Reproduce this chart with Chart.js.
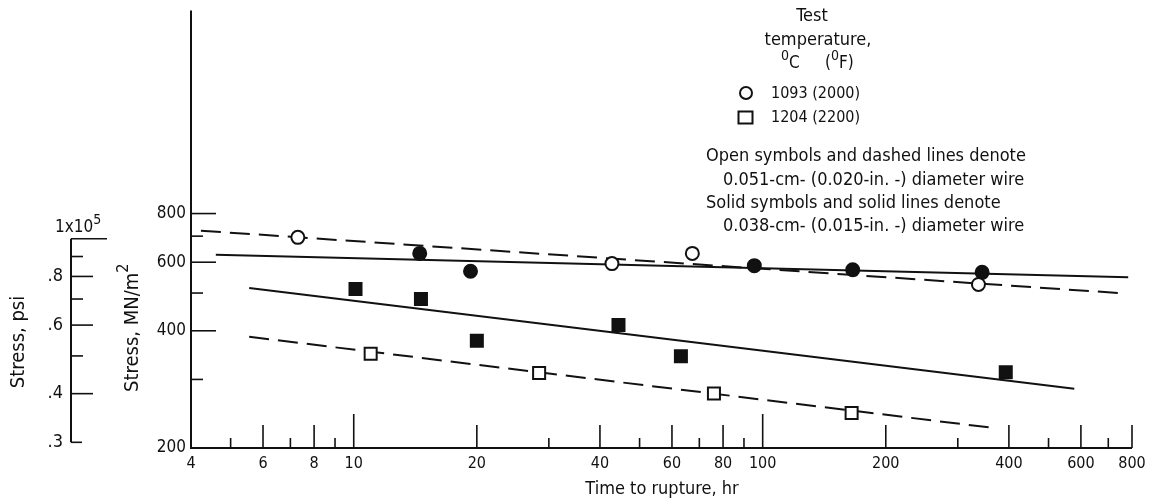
<!DOCTYPE html>
<html>
<head>
<meta charset="utf-8">
<script src="https://cdn.jsdelivr.net/npm/chart.js@4/dist/chart.umd.min.js"></script>
<style>
  html,body{margin:0;padding:0;background:#fff;}
  canvas{display:block;}
</style>
</head>
<body>
<canvas id="rupture" width="1153" height="501"></canvas>
<script>
/* ---------- data: time to rupture (hr) vs stress (MN/m2) ---------- */
// 1093 C, open = 0.051-cm wire, solid = 0.038-cm wire
const open1093Hr    = [7.3, 42.8, 67.3, 337];
const open1093Mpa   = [695, 595, 632, 526];
const solid1093Hr   = [14.5, 19.3, 95.4, 166, 344];
const solid1093Mpa  = [632, 569, 588, 574, 565];
// 1204 C
const open1204Hr    = [11.0, 28.4, 76.0, 165];
const open1204Mpa   = [349, 311.5, 276, 246];
const solid1204Hr   = [10.1, 14.6, 20.0, 44.4, 63.1, 393];
const solid1204Mpa  = [512, 483, 377, 414, 344, 313];

// faired lines (end points)
const fitOpen1093Hr   = [4.23, 765];
const fitOpen1093Mpa  = [723, 499];
const fitSolid1093Hr  = [4.6, 783];
const fitSolid1093Mpa = [627, 549];
const fitSolid1204Hr  = [5.55, 578];
const fitSolid1204Mpa = [515, 284];
const fitOpen1204Hr   = [5.55, 369];
const fitOpen1204Mpa  = [386, 225];

/* ---------- axes ---------- */
const xTicks      = [4,5,6,7,8,9,10,20,30,40,50,60,70,80,90,100,200,300,400,500,600,700,800];
const xLabels     = [4,6,8,10,20,40,60,80,100,200,400,600,800];
const yTicks      = [200,300,400,500,600,700,800];
const yLabels     = [200,400,600,800];
const psiTicks    = [30000,40000,50000,60000,70000,80000,90000,100000];
const psiLabels   = {30000:'.3',40000:'.4',60000:'.6',80000:'.8'};
const PSI_TO_MPA  = 0.0068948;

const FONT = "'DejaVu Sans Condensed','DejaVu Sans',sans-serif";
const INK  = '#111';

const pts = (xs,ys) => xs.map((x,i)=>({x, y: ys[i]}));

const marker = (xs,ys,style,filled,size) => ({
  type:'scatter', data: pts(xs,ys), order: 0,
  pointStyle: style, pointRadius: size, pointBorderWidth: 2,
  pointBorderColor: INK, pointBackgroundColor: filled ? INK : '#fff'
});
const fit = (xs,ys,dashed) => ({
  type:'line', data: pts(xs,ys), order: 1,
  borderColor: INK, borderWidth: 2, borderDash: dashed ? [20,9] : [],
  pointRadius: 0, fill:false, tension:0
});

// text followed by a raised small piece, e.g. m^2 or 0C
function textSup(ctx, parts, x, y, size){
  let cx = x;
  parts.forEach(([t, sup])=>{
    ctx.font = `${sup ? Math.round(size*0.8) : size}px ${FONT}`;
    ctx.fillText(t, cx, sup ? y - size*0.45 : y);
    cx += ctx.measureText(t).width;
  });
  return cx - x;
}

/* ---------- hand-drawn axes, ticks point inward ---------- */
const axesPlugin = {
  id:'paperAxes',
  afterDraw(chart){
    const {ctx, chartArea:a, scales:{x, y}} = chart;
    ctx.save();
    ctx.strokeStyle = INK; ctx.fillStyle = INK; ctx.lineWidth = 2;

    // main frame: left and bottom
    ctx.beginPath();
    ctx.moveTo(a.left, a.top); ctx.lineTo(a.left, a.bottom); ctx.lineTo(a.right, a.bottom);
    ctx.stroke();

    // x ticks
    ctx.lineWidth = 1.6;
    xTicks.forEach(v=>{
      if (v===4) return;
      const px = x.getPixelForValue(v);
      const len = (v===10||v===100) ? 34 : xLabels.includes(v) ? 23 : 10;
      ctx.beginPath(); ctx.moveTo(px, a.bottom); ctx.lineTo(px, a.bottom-len); ctx.stroke();
    });
    ctx.font = `16px ${FONT}`; ctx.textAlign='center'; ctx.textBaseline='middle';
    xLabels.forEach(v=> ctx.fillText(String(v), x.getPixelForValue(v), a.bottom+16));
    ctx.font = `18px ${FONT}`;
    ctx.fillText('Time to rupture, hr', 662, 489);

    // y ticks
    yTicks.forEach(v=>{
      if (v===200) return;
      const py = y.getPixelForValue(v);
      const len = yLabels.includes(v) ? 25 : 12;
      ctx.beginPath(); ctx.moveTo(a.left, py); ctx.lineTo(a.left+len, py); ctx.stroke();
    });
    ctx.font = `17px ${FONT}`; ctx.textAlign='right';
    yLabels.forEach(v=> ctx.fillText(String(v), a.left-5, y.getPixelForValue(v)));

    // y title with superscript
    ctx.save();
    ctx.translate(133, 392); ctx.rotate(-Math.PI/2);
    ctx.textAlign='left';
    textSup(ctx, [['Stress, MN/m', false], ['2', true]], 0, 0, 20);
    ctx.restore();

    // secondary psi axis, same log scale
    const px0 = 71;
    const pTop = y.getPixelForValue(100000*PSI_TO_MPA);
    const pBot = y.getPixelForValue(30000*PSI_TO_MPA);
    ctx.lineWidth = 2;
    ctx.beginPath(); ctx.moveTo(px0, pTop); ctx.lineTo(px0, pBot); ctx.stroke();
    ctx.lineWidth = 1.6;
    psiTicks.forEach(v=>{
      const py = y.getPixelForValue(v*PSI_TO_MPA);
      const len = v===100000 ? 36 : v===30000 ? 11 : psiLabels[v] ? 22 : 12;
      ctx.beginPath(); ctx.moveTo(px0, py); ctx.lineTo(px0+len, py); ctx.stroke();
    });
    ctx.font = `18px ${FONT}`; ctx.textAlign='right';
    Object.keys(psiLabels).forEach(k=>{
      ctx.fillText(psiLabels[k], 63, y.getPixelForValue(k*PSI_TO_MPA));
    });
    ctx.textAlign='left';
    textSup(ctx, [['1x10', false], ['5', true]], 55, pTop-11, 17);

    ctx.save();
    ctx.translate(19, 342); ctx.rotate(-Math.PI/2);
    ctx.textAlign='center'; ctx.font = `20px ${FONT}`;
    ctx.fillText('Stress, psi', 0, 0);
    ctx.restore();

    // key
    ctx.font = `18px ${FONT}`; ctx.textAlign='center';
    ctx.fillText('Test', 812, 16);
    ctx.fillText('temperature,', 818, 40);
    ctx.textAlign='left';
    textSup(ctx, [['0', true], ['C', false]], 781, 64, 17);
    textSup(ctx, [['(', false], ['0', true], ['F)', false]], 825, 64, 17);

    ctx.lineWidth = 2;
    ctx.beginPath(); ctx.arc(746, 93, 6, 0, Math.PI*2); ctx.stroke();
    ctx.strokeRect(738.5, 111.5, 14, 12);
    ctx.font = `16px ${FONT}`;
    ctx.fillText('1093 (2000)', 771, 94);
    ctx.fillText('1204 (2200)', 771, 118);
    ctx.font = `18px ${FONT}`;
    ctx.fillText('Open symbols and dashed lines denote', 706, 156);
    ctx.fillText('0.051-cm- (0.020-in. -) diameter wire', 723, 180);
    ctx.fillText('Solid symbols and solid lines denote', 706, 203);
    ctx.fillText('0.038-cm- (0.015-in. -) diameter wire', 723, 226);
    ctx.restore();
  }
};

new Chart(document.getElementById('rupture'), {
  data:{
    datasets:[
      marker(open1093Hr,  open1093Mpa,  'circle', false, 6.5),
      marker(solid1093Hr, solid1093Mpa, 'circle', true,  6.5),
      marker(open1204Hr,  open1204Mpa,  'rect',   false, 8.5),
      marker(solid1204Hr, solid1204Mpa, 'rect',   true,  8.5),
      fit(fitOpen1093Hr,  fitOpen1093Mpa,  true),
      fit(fitSolid1093Hr, fitSolid1093Mpa, false),
      fit(fitSolid1204Hr, fitSolid1204Mpa, false),
      fit(fitOpen1204Hr,  fitOpen1204Mpa,  true)
    ]
  },
  options:{
    responsive:false, devicePixelRatio:1, animation:false,
    layout:{padding:{left:191, right:21, top:7, bottom:53}},
    plugins:{legend:{display:false}, tooltip:{enabled:false}},
    scales:{
      x:{type:'logarithmic', min:4, max:800, bounds:'data', display:false},
      y:{type:'logarithmic', min:200, max:2658, bounds:'data', display:false}
    }
  },
  plugins:[axesPlugin]
});
</script>
</body>
</html>
